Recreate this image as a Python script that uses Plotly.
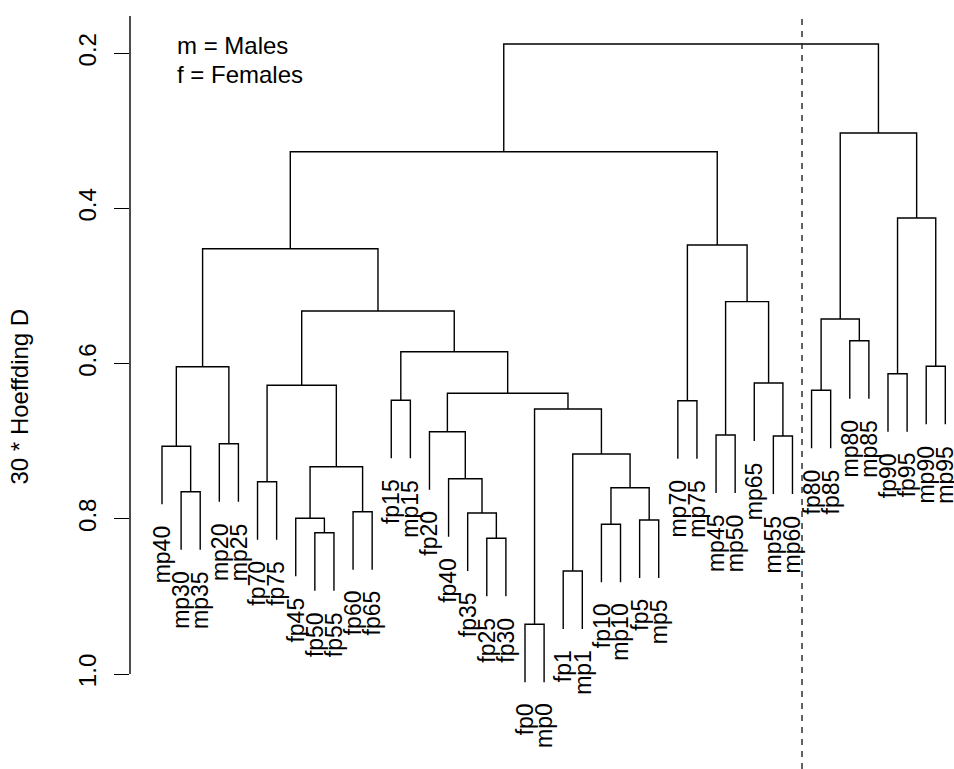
import plotly.graph_objects as go

# ---- data -------------------------------------------------------------
leaf_labels = ["mp40", "mp30", "mp35", "mp20", "mp25", "fp70", "fp75", "fp45", "fp50",
               "fp55", "fp60", "fp65", "fp15", "mp15", "fp20", "fp40", "fp35", "fp25",
               "fp30", "fp0", "mp0", "fp1", "mp1", "fp10", "mp10", "fp5", "mp5", "mp70",
               "mp75", "mp45", "mp50", "mp65", "mp55", "mp60", "fp80", "fp85", "mp80",
               "mp85", "fp90", "fp95", "mp90", "mp95"]

# R-style merge table: negative = leaf (1-based position), positive = earlier merge
merge_left = [-2, -1, -4, 2, -6, -9, -8, -11, 7, 5, -13, -18, -17, -16, -15, -20, -22,
              -24, -26, 18, 17, 16, 15, 11, 10, 4, -28, -30, -33, -32, 28, 27, 26, -35,
              -37, 34, -39, -41, 37, 36, 33]
merge_right = [-3, 1, -5, 3, -7, -10, 6, -12, 8, 9, -14, -19, 12, 13, 14, -21, -23,
               -25, -27, 19, 20, 21, 22, 23, 24, 25, -29, -31, -34, 29, 30, 31, 32, -36,
               -38, 35, -40, -42, 38, 39, 40]
merge_height = [0.7650, 0.7065, 0.7032, 0.6039, 0.7521, 0.8179, 0.7993, 0.7908, 0.7328,
                0.6279, 0.6472, 0.8251, 0.7925, 0.7483, 0.6877, 0.9359, 0.8672, 0.8070,
                0.8015, 0.7599, 0.7164, 0.6584, 0.6382, 0.5846, 0.5321, 0.4518, 0.6477,
                0.6919, 0.6932, 0.6249, 0.5201, 0.4471, 0.3268, 0.6343, 0.5704, 0.5424,
                0.6129, 0.6034, 0.4123, 0.3027, 0.1880]
hang = 0.0748
cut_position = 34.5
y_ticks = [0.2, 0.4, 0.6, 0.8, 1.0]
y_tick_labels = ["0.2", "0.4", "0.6", "0.8", "1.0"]
y_axis_top = 0.152
legend_lines = ["m = Males", "f = Females"]
y_title = "30 * Hoeffding D"

# ---- build dendrogram segments ---------------------------------------
node_x = {}
leaf_end = {}
xs, ys = [], []


def child_xy(c, h):
    if c < 0:
        leaf_end[-c] = h + hang
        return -c, h + hang
    return node_x[c], merge_height[c - 1]


for k, (a, b, h) in enumerate(zip(merge_left, merge_right, merge_height), start=1):
    xa, ya = child_xy(a, h)
    xb, yb = child_xy(b, h)
    xs += [xa, xa, xb, xb, None]
    ys += [ya, h, h, yb, None]
    node_x[k] = (xa + xb) / 2

FONT = "Liberation Sans, Arial, Helvetica, sans-serif"

fig = go.Figure()
fig.add_trace(go.Scatter(x=xs, y=ys, mode="lines",
                         line=dict(color="black", width=1.4),
                         hoverinfo="skip", showlegend=False))

annotations = []
for i, lab in enumerate(leaf_labels, start=1):
    annotations.append(dict(x=i, y=leaf_end[i], xref="x", yref="y", text=lab,
                            textangle=-90, xanchor="center", yanchor="top",
                            yshift=-19, showarrow=False,
                            font=dict(family=FONT, size=23, color="black")))

annotations.append(dict(x=0.0546, y=0.9402, xref="paper", yref="paper",
                        text=legend_lines[0], xanchor="left", yanchor="middle",
                        showarrow=False, font=dict(family=FONT, size=24, color="black")))
annotations.append(dict(x=0.0546, y=0.9025, xref="paper", yref="paper",
                        text=legend_lines[1], xanchor="left", yanchor="middle",
                        showarrow=False, font=dict(family=FONT, size=24, color="black")))
annotations.append(dict(x=-0.1335, y=0.4844, xref="paper", yref="paper",
                        text=y_title, textangle=-90, xanchor="center", yanchor="middle",
                        showarrow=False, font=dict(family=FONT, size=24, color="black")))

shapes = [
    dict(type="line", xref="paper", yref="y", x0=0, x1=0, y0=y_axis_top, y1=y_ticks[-1],
         line=dict(color="black", width=1.4)),
    dict(type="line", xref="x", yref="paper", x0=cut_position, x1=cut_position,
         y0=0, y1=1 - 16 / 769, line=dict(color="#222222", width=1.4, dash="6px,6px")),
]

fig.update_layout(
    width=954, height=769,
    margin=dict(l=130, r=0, t=0, b=0),
    paper_bgcolor="white", plot_bgcolor="white",
    showlegend=False,
    annotations=annotations,
    shapes=shapes,
    xaxis=dict(visible=False, range=[-0.675, 42.455], fixedrange=True),
    yaxis=dict(range=[1.1224, 0.1313], tickmode="array", tickvals=y_ticks,
               ticktext=y_tick_labels, tickangle=-90, ticks="outside", ticklen=15,
               tickwidth=1.4, tickcolor="black", showline=False, showgrid=False,
               zeroline=False, automargin=False, ticklabelstandoff=8,
               tickfont=dict(family=FONT, size=24, color="black")),
)

fig.write_html("out.html")
